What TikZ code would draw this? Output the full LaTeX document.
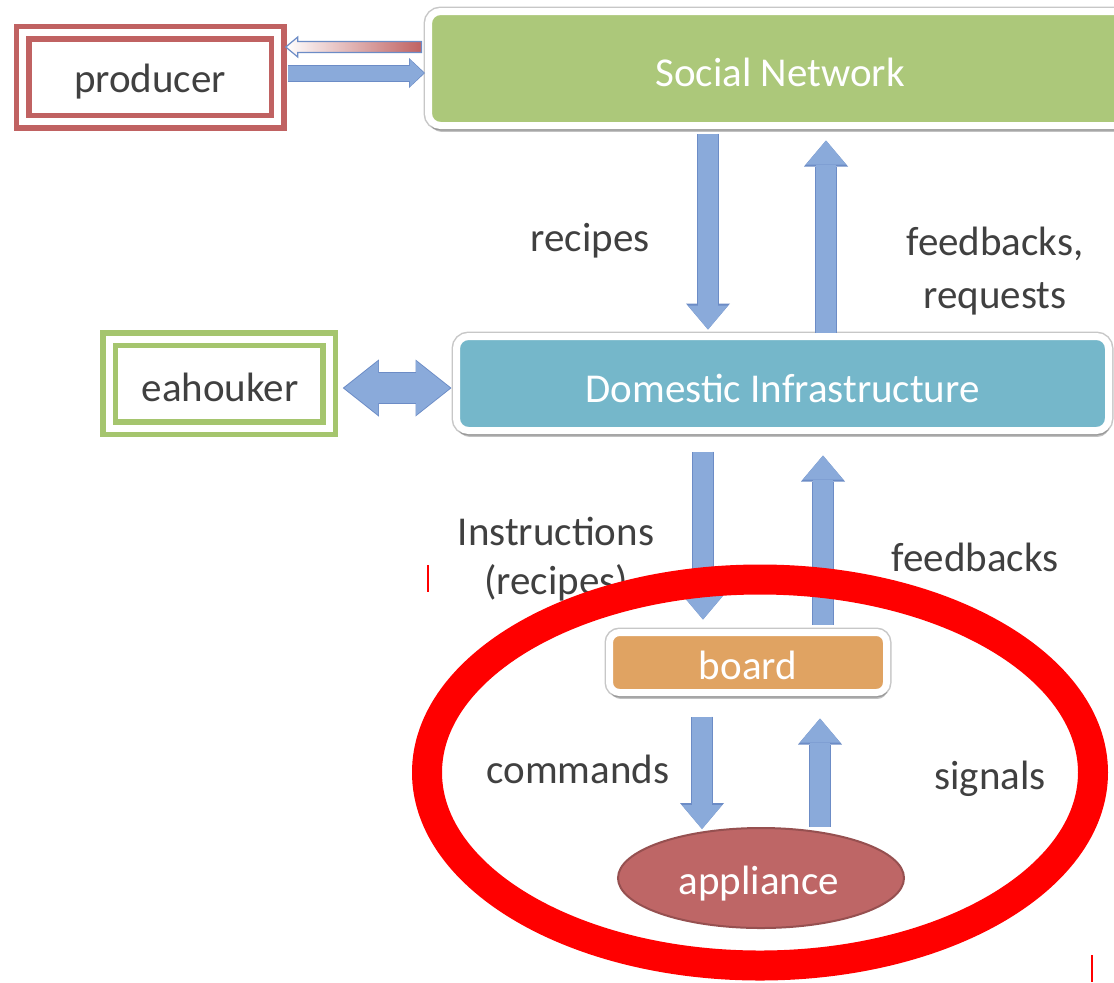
\documentclass[tikz,border=0pt]{standalone}
\usepackage{fontspec}
\setmainfont{Carlito}
\usetikzlibrary{arrows.meta,shapes.geometric,shadows,calc}
\definecolor{sngreen}{RGB}{172,200,122}
\definecolor{diblue}{RGB}{117,183,202}
\definecolor{boardorange}{RGB}{224,163,98}
\definecolor{applred}{RGB}{190,102,102}
\definecolor{appledge}{RGB}{150,80,80}
\definecolor{prodred}{RGB}{192,98,98}
\definecolor{eahgreen}{RGB}{165,197,110}
\definecolor{textgray}{RGB}{64,64,64}
\definecolor{arrowfill}{RGB}{138,170,218}
\definecolor{arrowedge}{RGB}{108,140,198}
\definecolor{markred}{RGB}{255,0,0}
\tikzset{
  lbl/.style={text=textgray, font=\fontsize{20.5}{26}\selectfont, inner sep=0pt},
  boxtext/.style={label={[text=white, font=\fontsize{20.5}{26}\selectfont, yshift=#1]center:}},
  roundbox/.style={rectangle, rounded corners=6pt, draw=white, line width=3.5pt, inner sep=0pt,
     preaction={draw=black!22, line width=5pt},
     drop shadow={shadow xshift=0.5pt, shadow yshift=-3.2pt, opacity=0.3, fill=black!80}},
  dblbox/.style={rectangle, inner sep=0pt, line width=2.75pt, double=white, double distance=3.5pt},
  sidetext/.style={text=textgray, font=\fontsize{20.5}{26}\selectfont},
  barrow/.style={draw=arrowfill, line width=10pt,
     -{Triangle[width=20pt,length=12pt,line width=0pt]},
     preaction={draw=arrowedge, line width=11pt, -{Triangle[width=22pt,length=13pt,line width=0pt]}}},
}
\begin{document}
\begin{tikzpicture}[x=0.5pt,y=-0.5pt]
\useasboundingbox (0,0) rectangle (1114,982);
\clip (0,0) rectangle (1114,982);
\fill[white] (0,0) rectangle (1114,982);

% main boxes
\node[roundbox, fill=sngreen, minimum width=351.5pt, minimum height=57pt,
  label={[text=white, font=\fontsize{20.5}{26}\selectfont, yshift=-2pt]center:Social Network}] (sn) at (780,68.5) {};
\node[roundbox, fill=diblue, minimum width=326pt, minimum height=47pt,
  label={[text=white, font=\fontsize{20.5}{26}\selectfont, yshift=-2.5pt]center:Domestic Infrastructure}] (di) at (782.5,383.5) {};
\node[roundbox, rounded corners=5pt, fill=boardorange, minimum width=138.5pt, minimum height=30pt,
  label={[text=white, font=\fontsize{20.5}{26}\selectfont, yshift=-1.5pt]center:board}] (board) at (748,662.5) {};
\node[ellipse, fill=applred, draw=appledge, line width=1pt, minimum width=143pt, minimum height=50pt, inner sep=0pt,
  label={[text=white, font=\fontsize{20.5}{26}\selectfont, yshift=-3pt, xshift=-1pt]center:appliance}] (appl) at (761,878) {};

% side boxes
\node[dblbox, draw=prodred, minimum width=127.5pt, minimum height=44.5pt,
  label={[sidetext, yshift=-2.5pt]center:producer}] (prod) at (150,77) {};
\node[dblbox, draw=eahgreen, minimum width=110pt, minimum height=44.5pt,
  label={[sidetext, yshift=-2pt, xshift=0.5pt]center:eahouker}] (eah) at (219,383.5) {};

% vertical block arrows
\draw[barrow, shorten <=2.25pt, shorten >=1.75pt] ([xshift=-36pt]sn.south) -- ([xshift=-37.25pt]di.north);
\draw[barrow, shorten >=5.75pt] ([xshift=21.75pt]di.north) -- ([xshift=23pt]sn.south);
\draw[barrow, shorten <=8.75pt, shorten >=4.75pt] ([xshift=-39.75pt]di.south) -- ([xshift=-22.5pt]board.north);
\draw[barrow, shorten <=2.25pt, shorten >=10.75pt] ([xshift=37.5pt]board.north) -- ([xshift=20.25pt]di.south);
\draw[barrow, shorten <=10.25pt, shorten >=-1pt] ([xshift=-23pt]board.south) -- ([xshift=-29.5pt]appl.north);
\draw[barrow, shorten >=11.25pt] ([xshift=29.5pt]appl.north) -- ([xshift=36pt]board.south);

% eahouker <-> domestic infrastructure
\draw[draw=arrowedge, line width=16pt,
  {Triangle[width=28.5pt,length=18pt,line width=0pt]}-{Triangle[width=28.5pt,length=18pt,line width=0pt]},
  shorten <=5.5pt, shorten >=0.75pt] ([yshift=-2.25pt]eah.east) -- ([yshift=-2.25pt]di.west);
\draw[draw=arrowfill, line width=15pt,
  {Triangle[width=27pt,length=17pt,line width=0pt]}-{Triangle[width=27pt,length=17pt,line width=0pt]},
  shorten <=6.3pt, shorten >=1.5pt] ([yshift=-2.25pt]eah.east) -- ([yshift=-2.25pt]di.west);

% producer -> social network
\draw[draw=arrowedge, line width=8.5pt, -{Triangle[width=15pt,length=8pt,line width=0pt]},
  shorten <=3.75pt] ([yshift=2pt]prod.east) -- ([yshift=-2.25pt]sn.west);
\draw[draw=arrowfill, line width=7.5pt, -{Triangle[width=13.5pt,length=7pt,line width=0pt]},
  shorten <=3.75pt, shorten >=0.6pt] ([yshift=2pt]prod.east) -- ([yshift=-2.25pt]sn.west);

% social network -> producer (shaded)
\shade[left color=white, right color=prodred, draw=arrowedge, line width=0.6pt]
  let \p1=([yshift=10.75pt]sn.west), \p2=(prod.east) in
  (\x1-1.75pt,\y1+2.75pt) -- (\x2+8.75pt,\y1+2.75pt) -- (\x2+8.75pt,\y1+5pt) -- (\x2+2.75pt,\y1)
  -- (\x2+8.75pt,\y1-5pt) -- (\x2+8.75pt,\y1-2.75pt) -- (\x1-1.75pt,\y1-2.75pt) -- cycle;

% labels
\node[lbl] (lrec) at (590,241) {recipes};
\node[lbl, align=center, font=\fontsize{20.5}{26.5}\selectfont] (lfr) at (995,271) {feedbacks,\\requests};
\node[lbl, align=center, font=\fontsize{20.5}{24.5}\selectfont] (linst) at (556,559) {Instructions\\(recipes)};
\node[lbl] (lfb) at (975,557) {feedbacks};
\node[lbl] (lcmd) at (578,769) {commands};
\node[lbl] (lsig) at (990,779) {signals};

% small red marks
\draw[markred, line width=1pt] (428,565) -- (428,592);
\draw[markred, line width=1pt] (1092,955) -- (1092,982);

% red highlight ellipse
\node[ellipse, draw=markred, line width=15pt, minimum width=333pt, minimum height=193pt, inner sep=0pt] (focus) at (760,772.5) {};
\end{tikzpicture}
\end{document}
